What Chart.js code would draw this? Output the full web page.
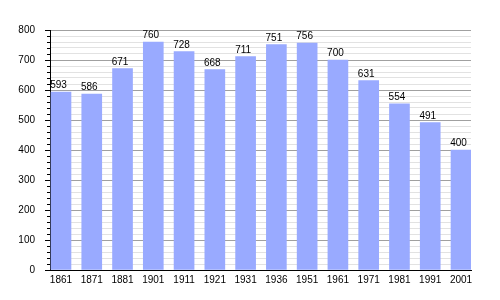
<!DOCTYPE html>
<html>
<head>
<meta charset="utf-8">
<script src="https://cdn.jsdelivr.net/npm/chart.js@4/dist/chart.umd.min.js"></script>
<style>
  html, body { margin: 0; padding: 0; background: #fff; }
  #wrap { width: 500px; height: 300px; }
</style>
</head>
<body>
<div id="wrap"><canvas id="popChart"></canvas></div>
<script>
var years = ["1861", "1871", "1881", "1901", "1911", "1921", "1931", "1936", "1951", "1961", "1971", "1981", "1991", "2001"];
var population = [593, 586, 671, 760, 728, 668, 711, 751, 756, 700, 631, 554, 491, 400];
var yTicks = [0, 100, 200, 300, 400, 500, 600, 700, 800];

var barColor = "#99aaff";
var fontFamily = "'Liberation Sans', Arial, sans-serif";

// value above every bar
var valueLabels = {
    id: 'valueLabels',
    afterDatasetsDraw: function(chart) {
        var ctx = chart.ctx;
        var meta = chart.getDatasetMeta(0);
        ctx.save();
        ctx.fillStyle = "#000";
        ctx.font = "10px " + fontFamily;
        ctx.textAlign = "center";
        ctx.textBaseline = "alphabetic";
        meta.data.forEach(function(bar, i) {
            ctx.fillText(String(population[i]), bar.x - 2.5, bar.y - 4);
        });
        ctx.restore();
    }
};

// short ticks every 20, longer at each labelled value
var yTickMarks = {
    id: 'yTickMarks',
    afterDraw: function(chart) {
        var ctx = chart.ctx;
        var y = chart.scales.y;
        var left = chart.chartArea.left;
        ctx.save();
        ctx.strokeStyle = "#000";
        ctx.lineWidth = 1;
        y.ticks.forEach(function(t) {
            var py = Math.round(y.getPixelForValue(t.value)) + 0.5;
            var len = yTicks.indexOf(t.value) >= 0 ? 5 : 3;
            ctx.beginPath();
            ctx.moveTo(left - len, py);
            ctx.lineTo(left, py);
            ctx.stroke();
        });
        ctx.restore();
    }
};

try {
    var ctx = document.getElementById("popChart");
    if (ctx) {
        var myChart = new Chart(ctx, {
            type: 'bar',
            data: {
                datasets: [{
                    data: population.map(function(v, i) { return { x: i, y: v }; }),
                    backgroundColor: barColor,
                    borderWidth: 0,
                    barThickness: 20
                }]
            },
            options: {
                responsive: true,
                maintainAspectRatio: false,
                animation: false,
                layout: { padding: { top: 30, right: 29, left: 0, bottom: 0 } },
                plugins: {
                    legend: { display: false },
                    tooltip: { enabled: false }
                },
                scales: {
                    x: {
                        type: 'linear',
                        offset: false,
                        min: -0.357,
                        max: 13.325,
                        afterFit: function(scale) { scale.height = 30; },
                        grid: { display: false, offset: false, drawTicks: false },
                        border: { color: "#000", width: 1 },
                        ticks: {
                            stepSize: 1,
                            includeBounds: false,
                            autoSkip: false,
                            maxRotation: 0,
                            padding: 4,
                            color: "#000",
                            font: { family: fontFamily, size: 10 },
                            callback: function(v) {
                                return Number.isInteger(v) ? years[v] : '';
                            }
                        }
                    },
                    y: {
                        min: 0,
                        max: 800,
                        afterFit: function(scale) { scale.width = 50; },
                        border: { color: "#000", width: 1 },
                        grid: {
                            drawTicks: false,
                            color: function(c) {
                                return yTicks.indexOf(c.tick.value) >= 0 ? "#a0a0a0" : "#e2e2e2";
                            }
                        },
                        ticks: {
                            stepSize: 20,
                            autoSkip: false,
                            padding: 15,
                            color: "#000",
                            font: { family: fontFamily, size: 10 },
                            callback: function(v) {
                                return yTicks.indexOf(v) >= 0 ? String(v) : '';
                            }
                        }
                    }
                }
            },
            plugins: [valueLabels, yTickMarks]
        });
    }
} catch (error) {
    console.log(error);
}
</script>
</body>
</html>
